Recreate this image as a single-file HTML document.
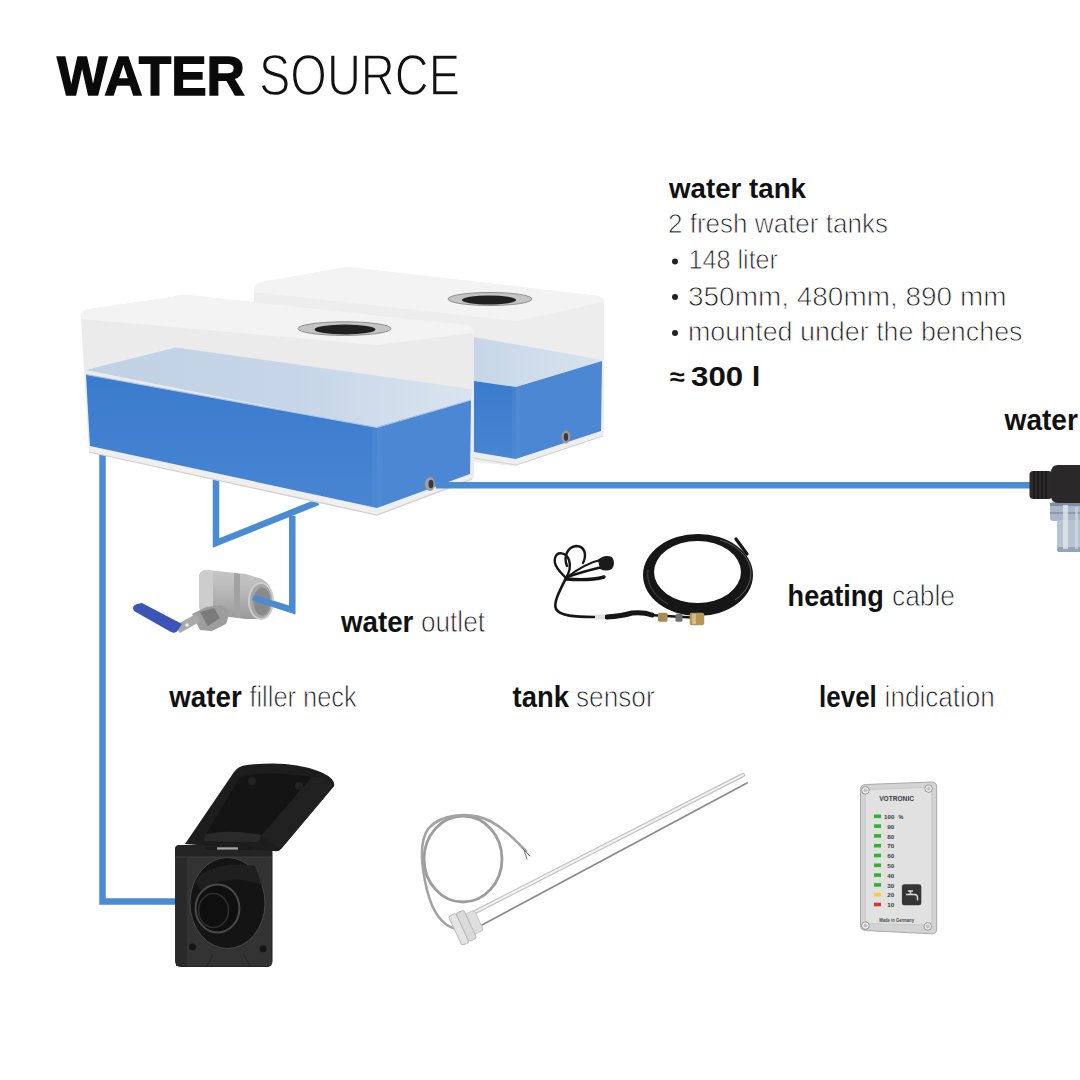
<!DOCTYPE html>
<html><head><meta charset="utf-8">
<style>
html,body{margin:0;padding:0;background:#fff;}
body{width:1080px;height:1080px;overflow:hidden;position:relative;font-family:"Liberation Sans",sans-serif;}
svg{position:absolute;left:0;top:0;}
</style></head>
<body>
<svg width="1080" height="1080" viewBox="0 0 1080 1080">
<defs>
  <linearGradient id="wblue" x1="0" y1="0" x2="0" y2="1">
    <stop offset="0" stop-color="#3b7bcd"/><stop offset="1" stop-color="#4886d3"/>
  </linearGradient>
  <linearGradient id="lblue" gradientUnits="userSpaceOnUse" x1="86" y1="0" x2="472" y2="0">
    <stop offset="0" stop-color="#c0d1e4"/><stop offset="0.55" stop-color="#c6d6e8"/><stop offset="1" stop-color="#dae4ef"/>
  </linearGradient>
  <linearGradient id="lblue2" gradientUnits="userSpaceOnUse" x1="474" y1="0" x2="603" y2="0">
    <stop offset="0" stop-color="#c6d6e8"/><stop offset="1" stop-color="#d9e3ee"/>
  </linearGradient>
</defs>

<g id="pipes" stroke="#4a8bd3" stroke-width="6.5" fill="none" stroke-linejoin="miter">
  <polyline points="102.5,452 102.5,901.5 176,901.5"/>
  <polyline points="216,478 216,543 318,502"/>
  <polyline points="292.3,516 292.3,610 252,597"/>
</g>
<g id="valve">
  <defs>
    <linearGradient id="steel" x1="0" y1="0" x2="0" y2="1">
      <stop offset="0" stop-color="#c6c6c6"/><stop offset="0.4" stop-color="#b9b9b9"/><stop offset="1" stop-color="#9a9a9a"/>
    </linearGradient>
  </defs>
  <path d="M199 578 Q199 570 207 570 L246 574 L262 579 Q273 585 273 600 Q273 617 260 619 L246 619 L206 614 Q199 612 199 604 Z" fill="url(#steel)"/>
  <path d="M199 578 Q199 570 207 570 L213 571 L213 613 L206 614 Q199 612 199 604 Z" fill="#cdcdcd"/>
  <path d="M234 573 L240 574 L240 618 L234 617 Z" fill="#a2a2a2"/>
  <ellipse cx="261" cy="601" rx="12" ry="18" fill="#a5a5a5" stroke="#cdcdcd" stroke-width="2"/>
  <ellipse cx="262" cy="601.5" rx="8.5" ry="14" fill="#8a8a8a"/>
  <path d="M192 614 L206 607 L222 605 L230 612 L226 624 L212 631 L200 630 Z" fill="#9d9d9d"/>
  <path d="M200 612 L214 608 L220 618 L208 626 Z" fill="#7b7b7b"/>
  <polygon points="174,626 196,614 201,621 180,633" fill="#a9a9a9"/>
  <circle cx="187" cy="625" r="1.8" fill="#eee"/>
  <path d="M137 604 Q131 606 134 611 L171 632 Q176 634 178 630 L182 624 L142 603 Z" fill="#3a55b5"/>
</g>
<line x1="292.3" y1="610" x2="253" y2="597.5" stroke="#4a8bd3" stroke-width="6"/>
<g id="reartank">
  <path d="M262 282 Q254 283 254 292 L256 440 L516 466 L600 437 Q604 435 604 431 L604 304 Q604 297 598 296 L352 267.5 Q346 266.5 338 268.5 Z" fill="#ededed"/>
  <path d="M262 282 Q254 283 254 292 L516 321 L604 302 Q604 297 598 296 L352 267.5 Q346 266.5 338 268.5 Z" fill="#f3f3f3"/>
  <polygon points="474,337 603,360 516,387 474,381" fill="url(#lblue2)"/>
  <polygon points="474,381 516,387 516,460 474,453" fill="url(#wblue)"/>
  <polygon points="516,387 602,361 601,432 516,459" fill="#4b87d3"/>
  <rect x="512" y="387" width="8" height="72" fill="#5a93d8" opacity="0.3"/>
  <polygon points="474,452 516,459 601,431 603,436 516,465 474,458" fill="#eeeeee"/>
  <polyline points="474,458 516,465 603,436" fill="none" stroke="#d2d2d2" stroke-width="1"/>
  <ellipse cx="490" cy="299" rx="42" ry="6.5" fill="#c4c4c4" stroke="#8f8f8f" stroke-width="1"/>
  <ellipse cx="489" cy="300" rx="27" ry="4.6" fill="#202020"/>
  <ellipse cx="566" cy="437" rx="4.5" ry="6.5" fill="#9a9a9a"/>
  <ellipse cx="566" cy="437" rx="2.2" ry="4" fill="#3a3a3a"/>
</g>
<g id="fronttank">
  <path d="M89 309 Q81 310 81 319 L89 452 L377 516 L470 481 Q474 479 474 475 L473 333 Q473 326 467 325 L187 295 Q181 294 173 297 Z" fill="#ebebeb"/>
  <path d="M89 309 Q81 310 81 319 L377 345 L473 333 Q473 326 467 325 L187 295 Q181 294 173 297 Z" fill="#f3f3f3"/>
  <polygon points="86,370 176,347.5 472,389 471,400 377,428" fill="url(#lblue)"/>
  <polygon points="86,374.5 377,427.5 377,509 90,447" fill="url(#wblue)"/>
  <polygon points="377,427 471,400 470,475 377,509" fill="#4b87d3"/>
  <rect x="372" y="428" width="10" height="81" fill="#5a93d8" opacity="0.3"/>
  <polyline points="86,374.5 377,427.5 471,400" fill="none" stroke="#a9c6ea" stroke-width="1.2"/>
  <polygon points="90,446 377,508 470,474 472,479 377,515 89,452" fill="#efefef"/>
  <polyline points="89,452 377,515 472,479" fill="none" stroke="#d0d0d0" stroke-width="1.2"/>
  <ellipse cx="344.5" cy="328.6" rx="46.5" ry="6.8" fill="#c4c4c4" stroke="#8f8f8f" stroke-width="1"/>
  <ellipse cx="345" cy="329.5" rx="30.5" ry="5" fill="#202020"/>
  <ellipse cx="430" cy="484" rx="5" ry="7" fill="#a0a0a0"/>
  <ellipse cx="431" cy="484" rx="2.5" ry="4.2" fill="#3a3a3a"/>
</g>
<line x1="436" y1="485.3" x2="1030" y2="485.3" stroke="#4a8bd3" stroke-width="6.5"/>

<g id="filter">
  <rect x="1050" y="502" width="36" height="19" rx="3" fill="#a9b7c7"/>
  <rect x="1050" y="503" width="36" height="3" fill="#7f8ea2"/>
  <rect x="1050" y="512" width="36" height="2" fill="#8d9bb0"/>
  <rect x="1057" y="520" width="30" height="32" rx="3" fill="#b7c3d0"/>
  <rect x="1057" y="547" width="30" height="5" rx="2" fill="#93a3b8"/>
  <rect x="1063" y="505" width="5" height="44" fill="#e3e9ef" opacity="0.75"/>
  <rect x="1075" y="507" width="3" height="42" fill="#d5dde6" opacity="0.6"/>
  <rect x="1029.5" y="471" width="23" height="28" rx="4" fill="#2c2a2a"/>
  <g stroke="#151313" stroke-width="1.3"><line x1="1034" y1="471" x2="1034" y2="499"/><line x1="1038" y1="471" x2="1038" y2="499"/><line x1="1042" y1="471" x2="1042" y2="499"/><line x1="1046" y1="471" x2="1046" y2="499"/></g>
  <path d="M1058 465 L1086 465 L1086 503 L1058 503 Q1051 503 1051 495 L1051 473 Q1051 465 1058 465 Z" fill="#2a2828"/>
</g>
<g id="heating">
  <path fill-rule="evenodd" fill="#161616" d="M643 575 A55 41 0 1 0 753 575 A55 41 0 1 0 643 575 Z M654 572 A43.5 31 0 1 0 741 572 A43.5 31 0 1 0 654 572 Z"/>
  <path d="M720 540 A49 36 0 0 1 735 600" fill="none" stroke="#666" stroke-width="0.9"/>
  <path d="M668 604 A50 37 0 0 1 648 570" fill="none" stroke="#555" stroke-width="0.8"/>
  <path d="M736 539 L747 554" stroke="#161616" stroke-width="3.2" stroke-linecap="round"/>
  <g fill="none" stroke="#161616" stroke-linecap="round">
    <path d="M566 578 C560 572 553 565 555 558 C557 551 566 552 569 560 C571 566 569 573 566 578" stroke-width="2.4"/>
    <path d="M567 566 C563 556 568 547 576 546 C585 546 587 555 583 563" stroke-width="2.4"/>
    <path d="M566 578 Q585 563 604 559" stroke-width="2.2"/>
    <path d="M567 577 Q588 570 607 566" stroke-width="2.6"/>
    <path d="M566 579 Q590 581 604 577" stroke-width="3.4"/>
    <path d="M566 578 C560 590 553 603 556 609 C560 616 575 617 594 617 L608 617" stroke-width="2.6"/>
    <path d="M650 615 L700 618" stroke-width="2.4"/>
    <path d="M607 617 Q622 616 632 613 Q644 612 652 615" stroke-width="5"/>
  </g>
  <path d="M598 560 Q604 554 612 557 Q616 563 612 569 Q606 572 600 569 Z" fill="#1a1a1a"/>
  <rect x="595" y="614.5" width="10" height="5" fill="#e0e0e0"/>
  <rect x="658" y="612.7" width="9.5" height="9" rx="1.5" fill="#a88c56"/>
  <rect x="675.5" y="613.7" width="7" height="8" rx="1.5" fill="#707070"/>
  <rect x="689.7" y="612.7" width="14.5" height="12.5" rx="2" fill="#b59659"/>
  <rect x="692" y="614" width="4" height="10" fill="#d4bb85"/>
</g>
<g id="filler">
  <path d="M180 846 L268 846 Q272 846 272 850 L272 961 Q272 966.5 267 966.5 L181 966.5 Q175.6 966.5 175.6 961 L175.6 850 Q175.6 846 180 846 Z" fill="#333333" stroke="#222" stroke-width="1"/>
  <rect x="176" y="850" width="11" height="116" fill="#292929"/>
  <path d="M175 849 Q175 845 179 845 L268 845 Q272 845 272 849 L272 857 L175 857 Z" fill="#242424"/>
  <line x1="176" y1="857" x2="272" y2="857" stroke="#444" stroke-width="0.8"/>
  <ellipse cx="227.5" cy="903" rx="37.5" ry="45.5" fill="#141414" stroke="#484848" stroke-width="1"/>
  <path d="M195 880 Q215 860 255 866 L262 885 Q230 872 200 890 Z" fill="#1f1f1f"/>
  <ellipse cx="217.5" cy="908.4" rx="21.9" ry="24" fill="#0f0f0f" stroke="#4a4a4a" stroke-width="2"/>
  <ellipse cx="213.5" cy="910.5" rx="15" ry="17" fill="none" stroke="#2e2e2e" stroke-width="1.6"/>
  <circle cx="192.5" cy="946.9" r="3.5" fill="#161616"/>
  <circle cx="263.1" cy="948.8" r="3.5" fill="#161616"/>
  <path d="M207 966 L213 955 M244 955 L250 966" stroke="#262626" stroke-width="1.2"/>
  <path d="M185 844 L234 772 Q238 766 247 765 Q290 760 318 771 Q336 778 334 786 L281 849 Q279 852 274 851 Z" fill="#1d1d1d"/>
  <path d="M206 834 L240 777 Q265 770 312 777 L261 836 Z" fill="#141414"/>
  <path d="M312 777 Q325 776 334 786 L281 849 L261 836 Z" fill="#212121"/>
  <path d="M206 834 Q232 829 261 835 L259 842 L204 841 Z" fill="#2a2a2a"/>
  <circle cx="252" cy="781" r="4" fill="#222"/><circle cx="299" cy="786" r="4" fill="#222"/>
  <rect x="205" y="847" width="48" height="3" fill="#1a1a1a"/>
  <rect x="217" y="847.3" width="21" height="2.3" fill="#a5a5a5"/>
</g>
<g id="sensor">
  <g fill="none" stroke-linecap="round">
    <ellipse cx="463" cy="859" rx="39" ry="43" stroke="#9c9c9c" stroke-width="2.8"/>
    <path d="M456 929 C440 925 432 910 427 890 C421 865 419 842 428 829 C440 814 470 811 490 821 C505 829 515 840 526 851" stroke="#a3a3a3" stroke-width="2.6"/>
    <path d="M522 848 L530 856 M524 850 L527 859" stroke="#777" stroke-width="1"/>
    <line x1="475" y1="912" x2="743" y2="775" stroke="#c2c2c2" stroke-width="4.4"/>
    <line x1="475" y1="912" x2="743" y2="775" stroke="#f4f4f4" stroke-width="1.9"/>
    <line x1="480" y1="926" x2="747" y2="783" stroke="#8c8c8c" stroke-width="1.8"/>
  </g>
  <g transform="rotate(-25 467 925.5)">
    <rect x="470" y="914.5" width="10" height="22" rx="2" fill="#dedede" stroke="#c4c4c4" stroke-width="1"/>
    <rect x="454" y="909.5" width="8" height="32" rx="2.5" fill="#e4e4e4" stroke="#b9b9b9" stroke-width="1"/>
    <rect x="462" y="910" width="8.5" height="31" rx="2.5" fill="#dadada" stroke="#b9b9b9" stroke-width="1"/>
  </g>
</g>
<g id="level" font-family="Liberation Sans, sans-serif">
  <path d="M865.5 784.5 L931.5 782 Q936.7 782 936.7 787 L936.7 929 Q936.7 934 931.5 933.8 L865.5 930.5 Q860.5 930.3 860.5 925.5 L860.5 789.5 Q860.5 784.7 865.5 784.5 Z" fill="#d3d3d3" stroke="#a9a9a9" stroke-width="1"/>
  <path d="M870 789.5 L927 787.5 Q931.8 787.5 931.8 792 L931.8 921 Q931.8 925 927 925 L870 923.5 Q865.4 923.3 865.4 919 L865.4 794 Q865.4 789.7 870 789.5 Z" fill="#e1e1e1" stroke="#c4c4c4" stroke-width="0.8"/>
  <g fill="#ececec" stroke="#8d8d8d" stroke-width="0.9">
    <circle cx="865.4" cy="790.3" r="3.8"/><circle cx="928.6" cy="788.6" r="3.8"/>
    <circle cx="865.4" cy="925.6" r="3.8"/><circle cx="927.8" cy="926.4" r="3.8"/>
  </g>
  <g fill="#bdbdbd">
    <circle cx="865.4" cy="790.3" r="1.8"/><circle cx="928.6" cy="788.6" r="1.8"/>
    <circle cx="865.4" cy="925.6" r="1.8"/><circle cx="927.8" cy="926.4" r="1.8"/>
  </g>
  <text x="879.2" y="800.5" font-size="7.6" font-weight="bold" fill="#3a3a3a" textLength="34.8" lengthAdjust="spacingAndGlyphs">VOTRONIC</text>
  <rect x="874" y="814.5" width="7" height="3.6" fill="#2db52d"/><text x="884" y="818.9" font-size="6.2" font-weight="bold" fill="#3a3a3a">100</text><rect x="874" y="824.3" width="7" height="3.6" fill="#2db52d"/><text x="887.3" y="828.7" font-size="6.2" font-weight="bold" fill="#3a3a3a">90</text><rect x="874" y="834.1" width="7" height="3.6" fill="#2db52d"/><text x="887.3" y="838.5" font-size="6.2" font-weight="bold" fill="#3a3a3a">80</text><rect x="874" y="843.9" width="7" height="3.6" fill="#2db52d"/><text x="887.3" y="848.3" font-size="6.2" font-weight="bold" fill="#3a3a3a">70</text><rect x="874" y="853.7" width="7" height="3.6" fill="#2db52d"/><text x="887.3" y="858.1" font-size="6.2" font-weight="bold" fill="#3a3a3a">60</text><rect x="874" y="863.5" width="7" height="3.6" fill="#2db52d"/><text x="887.3" y="867.9" font-size="6.2" font-weight="bold" fill="#3a3a3a">50</text><rect x="874" y="873.3" width="7" height="3.6" fill="#2db52d"/><text x="887.3" y="877.7" font-size="6.2" font-weight="bold" fill="#3a3a3a">40</text><rect x="874" y="883.1" width="7" height="3.6" fill="#2db52d"/><text x="887.3" y="887.5" font-size="6.2" font-weight="bold" fill="#3a3a3a">30</text><rect x="874" y="892.9" width="7" height="3.6" fill="#f0cf3a"/><text x="887.3" y="897.3" font-size="6.2" font-weight="bold" fill="#3a3a3a">20</text><rect x="874" y="902.7" width="7" height="3.6" fill="#d83232"/><text x="887.3" y="907.1" font-size="6.2" font-weight="bold" fill="#3a3a3a">10</text>
  <text x="898.6" y="818.9" font-size="5.5" font-weight="bold" fill="#3a3a3a">%</text>
  <rect x="901.9" y="884.3" width="19.4" height="21" rx="2.5" fill="#353535"/>
  <path d="M906 894.5 L914.5 894.5 Q917.5 894.5 917.5 898 L917.5 900.5 M910.5 891 L910.5 894.5 M908 891 L913 891" fill="none" stroke="#dedede" stroke-width="1.4"/>
  <text x="879.2" y="921.5" font-size="4.6" font-weight="bold" fill="#4a4a4a" textLength="34.8" lengthAdjust="spacingAndGlyphs">Made in Germany</text>
</g>
<g id="texts" font-family="Liberation Sans, sans-serif">
  <text x="57" y="94.6" font-size="56" font-weight="bold" fill="#0a0a0a" stroke="#0a0a0a" stroke-width="1.4" textLength="188" lengthAdjust="spacingAndGlyphs">WATER</text>
  <text x="259" y="95" font-size="57" fill="#111" stroke="#fff" stroke-width="1.4" textLength="201" lengthAdjust="spacingAndGlyphs">SOURCE</text>

  <text x="669" y="198" font-size="27" font-weight="bold" fill="#111" textLength="137" lengthAdjust="spacingAndGlyphs">water tank</text>
  <text x="668" y="233" font-size="28" fill="#1e1e1e" stroke="#fff" stroke-width="0.8" textLength="220" lengthAdjust="spacingAndGlyphs">2 fresh water tanks</text>
  <circle cx="675" cy="261.5" r="3" fill="#222"/>
  <text x="688.5" y="269" font-size="28" fill="#1e1e1e" stroke="#fff" stroke-width="0.8" textLength="89.5" lengthAdjust="spacingAndGlyphs">148 liter</text>
  <circle cx="675" cy="297" r="3" fill="#222"/>
  <text x="688" y="305.5" font-size="28" fill="#1e1e1e" stroke="#fff" stroke-width="0.8" textLength="318.5" lengthAdjust="spacingAndGlyphs">350mm, 480mm, 890 mm</text>
  <circle cx="675" cy="333" r="3" fill="#222"/>
  <text x="688" y="341" font-size="28" fill="#1e1e1e" stroke="#fff" stroke-width="0.8" textLength="334.5" lengthAdjust="spacingAndGlyphs">mounted under the benches</text>
  <text x="669.5" y="385" font-size="24" font-weight="bold" fill="#111" textLength="15" lengthAdjust="spacingAndGlyphs">≈</text>
  <text x="691" y="386" font-size="28.5" font-weight="bold" fill="#111" textLength="69.5" lengthAdjust="spacingAndGlyphs">300 l</text>

  <text x="1004.6" y="430" font-size="29" font-weight="bold" fill="#111" textLength="73.3" lengthAdjust="spacingAndGlyphs">water</text>
  <text x="341" y="631.6" font-size="29" font-weight="bold" fill="#111" textLength="72.4" lengthAdjust="spacingAndGlyphs">water</text>
  <text x="421" y="631.6" font-size="29" fill="#1e1e1e" stroke="#fff" stroke-width="0.8" textLength="64" lengthAdjust="spacingAndGlyphs">outlet</text>
  <text x="787.6" y="606" font-size="29" font-weight="bold" fill="#111" textLength="96.3" lengthAdjust="spacingAndGlyphs">heating</text>
  <text x="892" y="606" font-size="29" fill="#1e1e1e" stroke="#fff" stroke-width="0.8" textLength="63" lengthAdjust="spacingAndGlyphs">cable</text>
  <text x="169.3" y="707" font-size="29" font-weight="bold" fill="#111" textLength="72.4" lengthAdjust="spacingAndGlyphs">water</text>
  <text x="249.4" y="707" font-size="29" fill="#1e1e1e" stroke="#fff" stroke-width="0.8" textLength="107.4" lengthAdjust="spacingAndGlyphs">filler neck</text>
  <text x="512.6" y="707" font-size="29" font-weight="bold" fill="#111" textLength="56.3" lengthAdjust="spacingAndGlyphs">tank</text>
  <text x="576" y="707" font-size="29" fill="#1e1e1e" stroke="#fff" stroke-width="0.8" textLength="78.6" lengthAdjust="spacingAndGlyphs">sensor</text>
  <text x="819" y="707" font-size="29" font-weight="bold" fill="#111" textLength="57.8" lengthAdjust="spacingAndGlyphs">level</text>
  <text x="884.6" y="707" font-size="29" fill="#1e1e1e" stroke="#fff" stroke-width="0.8" textLength="110.2" lengthAdjust="spacingAndGlyphs">indication</text>
</g>
</svg>
</body></html>
